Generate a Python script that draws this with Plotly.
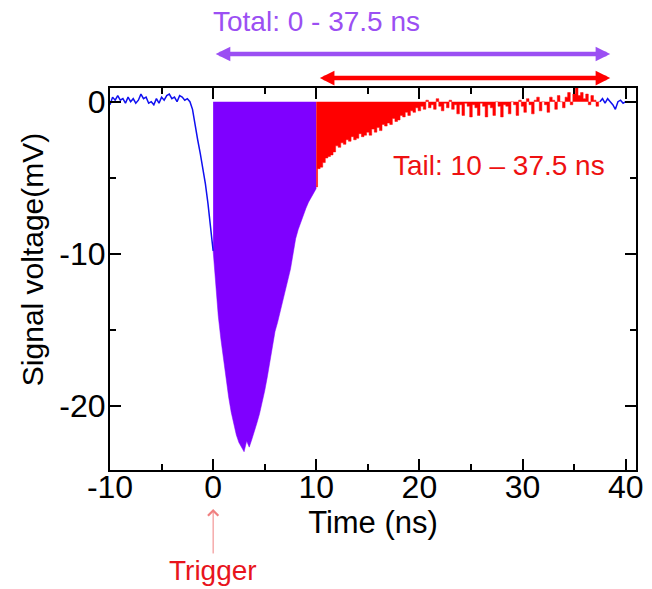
import numpy as np
import plotly.graph_objects as go

# ---------------- data ----------------
DT = 0.25  # sample spacing of the waveform (ns)

# pre-trigger part: t = -10 ... 0 ns
pre_start = -10.0
pre_v = [-0.2, 0.3, 0.1, 0.4, 0.1, 0.2, -0.1, 0.3,
         0.0, 0.2, -0.1, 0.1, 0.5, 0.2, 0.3, -0.1,
         0.0, -0.2, 0.2, -0.1, 0.3, 0.1, 0.4, 0.5,
         0.2, 0.3, 0.0, 0.4, 0.3, 0.1, 0.2, 0.0,
         -0.5, -1.6, -2.5, -3.4, -4.3, -5.4, -6.7, -8.2, -9.8]

# "total" window start: t = 0 ... 10 ns
pulse_start = 0.0
pulse_v = [-9.8, -12.3, -14.1, -15.6, -17.0, -18.3, -19.4, -20.4,
           -21.2, -21.9, -22.4, -22.7, -23.0, -22.3, -22.7, -22.2,
           -21.7, -21.1, -20.5, -19.8, -19.0, -18.1, -17.0, -16.0,
           -15.1, -14.5, -13.8, -13.2, -12.5, -11.8, -11.0, -10.0,
           -9.0, -8.4, -7.9, -7.4, -7.0, -6.6, -6.3, -6.0, -5.7]

# tail window: t = 10 ... 37.5 ns
tail_start = 10.0
tail_v = [-5.6, -4.4, -4.3, -4.0, -3.7, -3.6, -3.5, -3.3,
          -2.9, -3.0, -2.7, -2.8, -2.5, -2.6, -2.3, -2.5,
          -2.4, -2.1, -2.3, -2.2, -2.0, -2.2, -1.8, -2.0,
          -1.7, -1.9, -1.5, -1.6, -1.4, -1.5, -1.1, -1.3,
          -1.2, -0.9, -1.0, -0.7, -0.9, -0.6, -0.7, -0.4,
          -0.6, -0.3, -0.5, 0.1, -0.4, -0.2, -0.5, 0.2,
          -0.3, -0.6, -0.1, -0.4, 0.1, -0.5, -0.2, -0.8,
          -0.2, -0.9, -0.1, -0.3, -1.0, -0.2, -0.4, -0.9,
          -0.1, -0.3, -1.0, -0.2, -0.4, -0.9, 0.0, -0.3,
          -1.0, -0.2, -0.3, -0.8, 0.0, -0.2, -0.9, 0.1,
          -0.3, -0.7, 0.2, -0.2, -0.8, 0.1, 0.3, -0.6,
          0.0, -0.2, -0.7, 0.3, 0.1, -0.5, 0.4, 0.0,
          -0.4, 0.3, 0.6, -0.2, 0.5, 0.9, 0.4, 0.6,
          0.2, 0.5, -0.2, 0.4, 0.1, -0.3, 0.0]

# after the window: t = 37.5 ... 41 ns
post_start = 37.5
post_v = [0.0, 0.2, -0.1, 0.2, 0.0, -0.2, -0.5, 0.0,
          0.1, -0.1, 0.0, 0.0, 0.0, 0.0, 0.0]

x_tickvals = [-10, 0, 10, 20, 30, 40]
x_ticktext = ["-10", "0", "10", "20", "30", "40"]
y_tickvals = [0, -10, -20]
y_ticktext = ["0", "-10", "-20"]

x_title = "Time (ns)"
y_title = "Signal voltage(mV)"
total_label = "Total: 0 - 37.5 ns"
tail_label = "Tail: 10 – 37.5 ns"
trigger_label = "Trigger"

total_window = [0.0, 37.5]
tail_window = [10.0, 37.5]
trigger_time = 0.0


def times(start, values):
    return np.round(start + DT * np.arange(len(values)), 3)


BLUE = "#1010F0"
PURPLE_FILL = "#7F00FF"
RED = "#FF0000"
PURPLE_TXT = "#9B4FF3"
FONT = "Arial, Liberation Sans, sans-serif"

fig = go.Figure()

fig.add_trace(go.Scatter(x=times(pulse_start, pulse_v), y=pulse_v, mode="lines",
                         line=dict(color=PURPLE_FILL, width=0.5),
                         fill="tozeroy", fillcolor=PURPLE_FILL, showlegend=False))
fig.add_trace(go.Scatter(x=times(tail_start, tail_v), y=tail_v, mode="lines",
                         line=dict(color=RED, width=0.5, shape="hvh"),
                         fill="tozeroy", fillcolor=RED, showlegend=False))
fig.add_trace(go.Scatter(x=times(pre_start, pre_v), y=pre_v, mode="lines",
                         line=dict(color=BLUE, width=1.5), showlegend=False))
fig.add_trace(go.Scatter(x=times(post_start, post_v), y=post_v, mode="lines",
                         line=dict(color=BLUE, width=1.5), showlegend=False))

axis_common = dict(
    showgrid=False, zeroline=False, showline=True, linecolor="black", linewidth=2,
    mirror="allticks", ticks="inside", ticklen=11, tickwidth=1.5, tickcolor="black",
    tickfont=dict(family=FONT, size=32, color="black"),
)
minor_common = dict(dtick=5, tick0=0, ticks="inside", ticklen=6, tickwidth=1.5, tickcolor="black")

fig.update_layout(
    width=652, height=589,
    margin=dict(l=110, r=9, t=88, b=119),
    paper_bgcolor="white", plot_bgcolor="white",
    font=dict(family=FONT, size=28, color="black"),
    xaxis=dict(range=[-10, 41], tickvals=x_tickvals, ticktext=x_ticktext,
               ticklabelstandoff=-12, minor=minor_common,
               title=dict(text=x_title, font=dict(family=FONT, size=31, color="black"), standoff=0),
               **axis_common),
    yaxis=dict(range=[-24.2, 0.9], tickvals=y_tickvals, ticktext=y_ticktext,
               ticklabelstandoff=-4, minor=minor_common,
               **axis_common),
)

annotations = [
    dict(x=-0.148, y=0.5497, xref="paper", yref="paper", text=y_title, showarrow=False,
         textangle=-90, xanchor="center", yanchor="middle",
         font=dict(family=FONT, size=30, color="black")),
    dict(x=-0.2, y=1.1728, xref="x", yref="paper", text=total_label, showarrow=False,
         xanchor="left", yanchor="middle", font=dict(family=FONT, size=28, color=PURPLE_TXT)),
    dict(x=total_window[1] + 1.0, y=1.089, ax=total_window[0] + 0.1, ay=0,
         xref="x", yref="paper", axref="x", ayref="pixel", text="", showarrow=True,
         arrowhead=2, startarrowhead=2, arrowside="end+start", arrowwidth=4.5,
         arrowsize=0.65, startarrowsize=0.65, arrowcolor=PURPLE_TXT, standoff=0, startstandoff=0),
    dict(x=tail_window[1] + 1.0, y=1.026, ax=tail_window[0] + 0.2, ay=0,
         xref="x", yref="paper", axref="x", ayref="pixel", text="", showarrow=True,
         arrowhead=2, startarrowhead=2, arrowside="end+start", arrowwidth=4.5,
         arrowsize=0.65, startarrowsize=0.65, arrowcolor=RED, standoff=0, startstandoff=0),
    dict(x=17.2, y=-4.16, xref="x", yref="y", text=tail_label, showarrow=False,
         xanchor="left", yanchor="middle", font=dict(family=FONT, size=28, color="#EE1111")),
    dict(x=trigger_time, y=-0.102, ax=0, ay=46,
         xref="x", yref="paper", axref="pixel", ayref="pixel", text="", showarrow=True,
         arrowhead=4, arrowwidth=1, arrowsize=2.0, arrowcolor="#F08080", standoff=0),
    dict(x=trigger_time, y=-0.264, xref="x", yref="paper", text=trigger_label, showarrow=False,
         xanchor="center", yanchor="middle", font=dict(family=FONT, size=28, color="#E8141C")),
]
fig.update_layout(annotations=annotations)

fig.write_html("out.html")
